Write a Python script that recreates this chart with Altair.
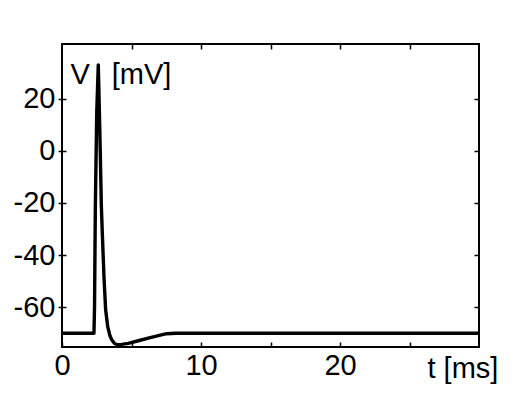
import altair as alt
import pandas as pd

# membrane potential trace
t_ms = [0, 2.30, 2.34, 2.40, 2.50, 2.61, 2.72, 2.83, 2.90, 3.02, 3.14, 3.29, 3.45,
        3.58, 3.75, 3.94, 4.30, 4.77, 5.49, 6.21, 6.93, 7.53, 8.20, 15.0, 30.0]
v_mv = [-70, -70, -60, -21, 15, 33, 8, -21, -31.6, -48.4, -61, -67.5, -71,
        -72.5, -73.8, -74.4, -74.3, -73.9, -72.9, -71.9, -70.9, -70.2, -70, -70, -70]

x_ticks = [0, 5, 10, 15, 20, 25]
x_ticks_top = [5, 10, 15, 20, 25]
y_ticks = [-60, -40, -20, 0, 20]
x_title = "t [ms]"
y_title = "V\u00a0\u00a0\u2009[mV]"

df = pd.DataFrame({"t": t_ms, "v": v_mv})

FONT = "Liberation Sans"
FS = 29

xscale = alt.Scale(domain=[0, 30], nice=False, zero=False)
yscale = alt.Scale(domain=[-75.3, 41], nice=False, zero=False)

common = dict(grid=False, domain=False, tickColor="black", tickWidth=1.5,
              labelFont=FONT, labelFontSize=FS, labelColor="black",
              titleFont=FONT, titleFontSize=FS, titleColor="black",
              titleFontWeight="normal", labelOverlap=False)

x_bottom = alt.Axis(orient="bottom", values=x_ticks, offset=-5, tickSize=5,
                    labelExpr="datum.value % 10 === 0 ? '' + datum.value : ''",
                    labelPadding=4, labelFlush=False,
                    title=x_title, titleX=365, titleY=35, titleAlign="left",
                    titleBaseline="alphabetic", titleAngle=0, **common)
y_left = alt.Axis(orient="left", values=y_ticks, offset=-4, tickSize=8,
                  labelExpr="'' + datum.value",
                  labelPadding=3, labelBaseline="middle",
                  title=y_title, titleX=4, titleY=39, titleAlign="left",
                  titleBaseline="alphabetic", titleAngle=0, **common)
x_top = alt.Axis(orient="top", values=x_ticks_top, offset=-5, tickSize=5,
                 labels=False, title=None, **common)
y_right = alt.Axis(orient="right", values=y_ticks, offset=-5, tickSize=5,
                   labels=False, title=None, **common)

trace = alt.Chart(df).mark_line(color="black", strokeWidth=3.4,
                                strokeJoin="round").encode(
    x=alt.X("t:Q", scale=xscale, axis=x_bottom),
    y=alt.Y("v:Q", scale=yscale, axis=y_left),
    order="t:Q",
)
frame = alt.Chart(df).mark_line(opacity=0).encode(
    x=alt.X("t:Q", scale=xscale, axis=x_top),
    y=alt.Y("v:Q", scale=yscale, axis=y_right),
)

chart = alt.layer(trace, frame).resolve_axis(
    x="independent", y="independent"
).properties(
    width=417, height=303,
    autosize=alt.AutoSizeParams(type="none"),
    padding={"left": 54, "top": 36, "right": 40, "bottom": 40},
    background="white",
).configure_view(stroke="black", strokeWidth=2, fill="white")

chart.save("out.html", embed_options={"renderer": "svg", "actions": False})
